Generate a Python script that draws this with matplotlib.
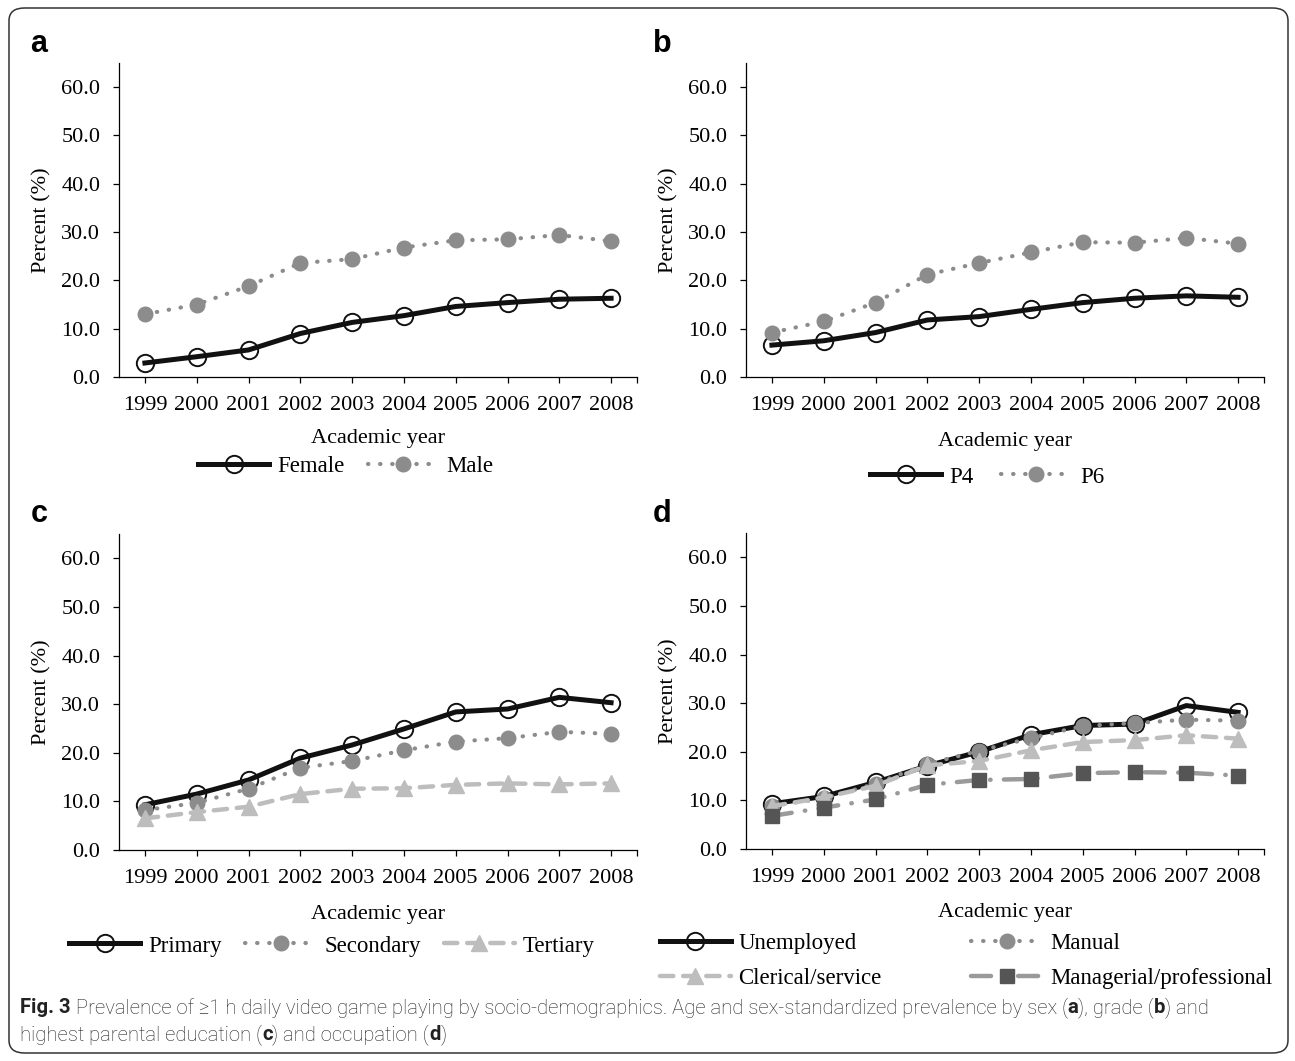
import matplotlib
matplotlib.use('Agg')
import matplotlib.pyplot as plt
from matplotlib.patches import FancyBboxPatch

# data
years = ['1999', '2000', '2001', '2002', '2003', '2004', '2005', '2006', '2007', '2008']

female = [2.9, 4.2, 5.6, 9.0, 11.3, 12.7, 14.6, 15.4, 16.1, 16.3]
male = [13.0, 15.0, 18.8, 23.6, 24.4, 26.8, 28.3, 28.5, 29.4, 28.1]

p4 = [6.6, 7.5, 9.2, 11.8, 12.5, 14.0, 15.4, 16.3, 16.8, 16.5]
p6 = [9.2, 11.5, 15.4, 21.2, 23.6, 25.8, 27.9, 27.8, 28.8, 27.6]

primary = [9.3, 11.5, 14.4, 18.9, 21.6, 24.9, 28.4, 29.0, 31.4, 30.3]
secondary = [8.2, 9.7, 12.6, 16.9, 18.3, 20.5, 22.3, 23.0, 24.3, 23.9]
tertiary = [6.5, 7.8, 8.9, 11.5, 12.6, 12.7, 13.4, 13.7, 13.5, 13.7]

unemployed = [9.3, 10.8, 13.7, 17.1, 20.0, 23.5, 25.4, 25.7, 29.5, 28.1]
manual = [8.9, 10.4, 13.4, 17.5, 20.2, 22.8, 25.3, 25.9, 26.6, 26.4]
clerical = [8.8, 10.6, 13.0, 17.2, 18.1, 20.3, 22.0, 22.4, 23.4, 22.7]
managerial = [6.8, 8.5, 10.2, 13.2, 14.2, 14.4, 15.6, 15.8, 15.7, 15.1]

W, H = 1295, 1061
SERIF = 'Liberation Serif'
FS = 16      # tick labels / axis titles
LFS = 16.5   # legends

# line styles
s_black = dict(color='#111111', lw=3.6, marker='o', ms=12.5, mfc='none', mec='#111111', mew=1.4)
s_gray = dict(color='#8c8c8c', lw=3.0, ls=(0, (0.1, 2.8)), dash_capstyle='round',
              marker='o', ms=10.5, mfc='#8c8c8c', mec='#8c8c8c')
s_light = dict(color='#bdbdbd', lw=3.2, ls=(0, (3, 2.2)), dash_capstyle='round',
               marker='^', ms=11, mfc='#bdbdbd', mec='#bdbdbd')
s_dark = dict(color='#9a9a9a', lw=3.2, ls=(0, (4.5, 3, 0.1, 3)), dash_capstyle='round',
              marker='s', ms=9.5, mfc='#555555', mec='#555555')


def box(l, t, r, b):
    return [l / W, 1 - b / H, (r - l) / W, (b - t) / H]


def fx(x):
    return x / W


def fy(y):
    return 1 - y / H


def setup(ax):
    x = range(len(years))
    ax.set_xlim(-0.5, 9.5)
    ax.set_ylim(0, 65)
    ax.set_yticks(range(0, 61, 10))
    ax.set_yticklabels(['%.1f' % v for v in range(0, 61, 10)], fontfamily=SERIF, fontsize=FS)
    ax.set_xticks(list(x))
    ax.set_xticklabels(years, fontfamily=SERIF, fontsize=FS)
    ax.set_xticks([9.5], minor=True)
    for s in ['top', 'right']:
        ax.spines[s].set_visible(False)
    for s in ['left', 'bottom']:
        ax.spines[s].set_linewidth(0.9)
    ax.tick_params(axis='y', length=4.5, width=0.9, pad=9)
    ax.tick_params(axis='x', which='both', length=4.5, width=0.9, pad=9)
    ax.patch.set_alpha(0)
    return list(x)


def legend(ax, handles, labels, cx, cy, ncol, colsp, **kw):
    ax.legend(handles, labels, loc='center', bbox_to_anchor=(fx(cx), fy(cy)),
              bbox_transform=fig.transFigure, ncol=ncol, frameon=False,
              prop={'family': SERIF, 'size': LFS}, handlelength=3.1,
              handletextpad=0.35, columnspacing=colsp, borderpad=0, **kw)


fig = plt.figure(figsize=(W / 100, H / 100), dpi=100)

# outer rounded frame
frame = FancyBboxPatch((9 / W, 8 / H), 1279 / W, 1045 / H,
                       boxstyle='round,pad=0,rounding_size=0.012',
                       transform=fig.transFigure, fill=False, ec='#333333', lw=1.1)
fig.patches.append(frame)

axa = fig.add_axes(box(119, 63, 637, 377))
axb = fig.add_axes(box(746, 63, 1264, 377))
axc = fig.add_axes(box(119, 534, 637, 850))
axd = fig.add_axes(box(746, 533, 1264, 849))

# panel a
x = setup(axa)
a1, = axa.plot(x, female, **s_black)
a2, = axa.plot(x, male, **s_gray)
legend(axa, [a1, a2], ['Female', 'Male'], 346, 466, 2, 1.0)

# panel b
x = setup(axb)
b1, = axb.plot(x, p4, **s_black)
b2, = axb.plot(x, p6, **s_gray)
legend(axb, [b1, b2], ['P4', 'P6'], 987, 477, 2, 1.2)

# panel c
x = setup(axc)
c1, = axc.plot(x, primary, **s_black)
c2, = axc.plot(x, secondary, **s_gray)
c3, = axc.plot(x, tertiary, **s_light)
legend(axc, [c1, c2, c3], ['Primary', 'Secondary', 'Tertiary'], 332, 946, 3, 1.0)

# panel d
x = setup(axd)
d1, = axd.plot(x, unemployed, **s_black)
d2, = axd.plot(x, manual, **s_gray)
d3, = axd.plot(x, clerical, **s_light)
d4, = axd.plot(x, managerial, **s_dark)
legend(axd, [d1, d3, d2, d4],
       ['Unemployed', 'Clerical/service', 'Manual', 'Managerial/professional'],
       966, 961, 2, 3.9, labelspacing=0.62)

# axis titles and panel letters
for cx, ly, px, py in [(378, 438, 42, 220), (1005, 441, 669, 220),
                       (378, 914, 42, 692), (1005, 913, 669, 691)]:
    fig.text(fx(cx), fy(ly), 'Academic year', ha='center', va='center', family=SERIF, size=FS)
    fig.text(fx(px), fy(py), 'Percent (%)', ha='center', va='center', rotation=90,
             family=SERIF, size=FS)

for lt, lx, ly in [('a', 30, 52), ('b', 653, 52), ('c', 31, 522), ('d', 653, 522)]:
    fig.text(fx(lx), fy(ly), lt, ha='left', va='baseline', family='Liberation Sans',
             weight='bold', size=22)

# caption with mixed weights
cap_font = ['Roboto', 'DejaVu Sans']
cap_lines = [
    [('Fig. 3', 'bold'),
     (' Prevalence of \u22651 h daily video game playing by socio-demographics. '
      'Age and sex-standardized prevalence by sex (', 'light'),
     ('a', 'bold'), ('), grade (', 'light'), ('b', 'bold'), (') and', 'light')],
    [('highest parental education (', 'light'), ('c', 'bold'),
     (') and occupation (', 'light'), ('d', 'bold'), (')', 'light')],
]
renderer = fig.canvas.get_renderer()


def line_width(line, size):
    total = 0
    for txt, wt in line:
        t = fig.text(0, 0, txt, family=cap_font, weight=wt, size=size)
        total += t.get_window_extent(renderer=renderer).width
        t.remove()
    return total


cap_size = 14 * (1213 - 20) / line_width(cap_lines[0], 14)
for line, yy in zip(cap_lines, [1013, 1040]):
    xx = 20
    for txt, wt in line:
        t = fig.text(fx(xx), fy(yy), txt, ha='left', va='baseline', family=cap_font,
                     weight=wt, size=cap_size, color='#222222')
        xx += t.get_window_extent(renderer=renderer).width

fig.savefig('out.png', dpi=100)
